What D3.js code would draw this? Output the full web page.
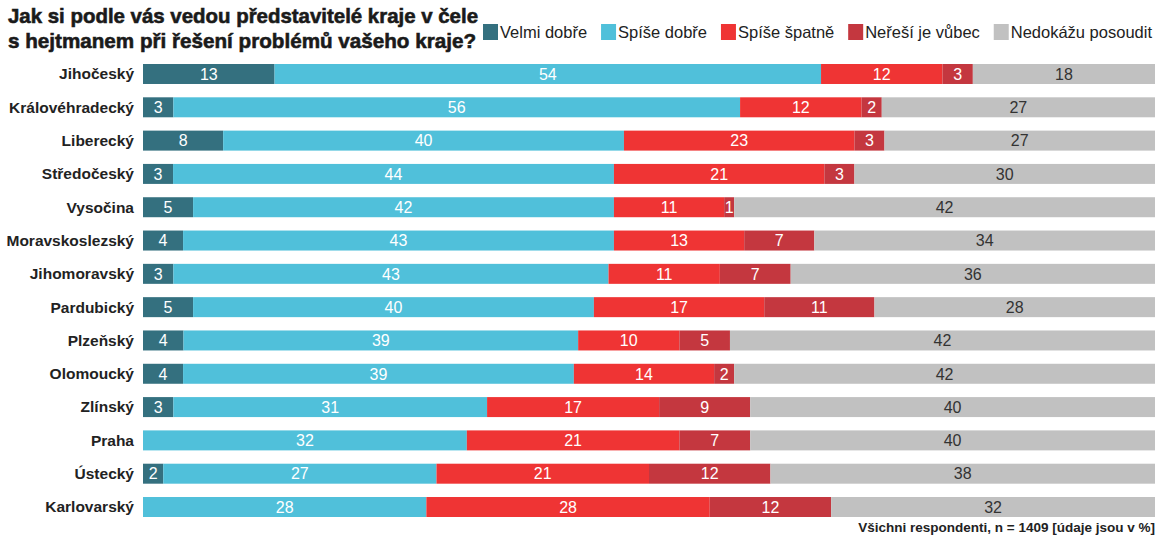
<!DOCTYPE html>
<html>
<head>
<meta charset="utf-8">
<script src="https://cdnjs.cloudflare.com/ajax/libs/d3/7.8.5/d3.min.js"></script>
<style>
    html, body { margin:0; padding:0; background:#fff; }
    svg { display:block; font-family:"Liberation Sans", Arial, sans-serif; }
    .title { font-family:"Liberation Sans", Arial, sans-serif; font-weight:bold; font-size:21px; fill:#1a1a1a; stroke:#1a1a1a; stroke-width:0.6px; }
    .cat { font-weight:bold; font-size:15.5px; fill:#222; }
    .val { font-size:16px; }
    .leg { font-size:16.5px; fill:#222; }
    .foot { font-weight:bold; font-size:13.5px; fill:#222; }
</style>
</head>
<body>
<svg width="1155" height="536"></svg>
<script>
// kraje, shora dolu
var regions = ["Jihočeský", "Královéhradecký", "Liberecký", "Středočeský", "Vysočina",
    "Moravskoslezský", "Jihomoravský", "Pardubický", "Plzeňský", "Olomoucký",
    "Zlínský", "Praha", "Ústecký", "Karlovarský"];

var seriesNames = ["Velmi dobře", "Spíše dobře", "Spíše špatně", "Neřeší je vůbec", "Nedokážu posoudit"];

var velmiDobre   = [13, 3, 8, 3, 5, 4, 3, 5, 4, 4, 3, 0, 2, 0];
var spiseDobre   = [54, 56, 40, 44, 42, 43, 43, 40, 39, 39, 31, 32, 27, 28];
var spiseSpatne  = [12, 12, 23, 21, 11, 13, 11, 17, 10, 14, 17, 21, 21, 28];
var neresi       = [3, 2, 3, 3, 1, 7, 7, 11, 5, 2, 9, 7, 12, 12];
var nedokazu     = [18, 27, 27, 30, 42, 34, 36, 28, 42, 42, 40, 40, 38, 32];

var colors = ["#34707f", "#50c0da", "#ef3434", "#c4373f", "#c1c1c1"];
var textColors = ["#fff", "#fff", "#fff", "#fff", "#333"];

var series = [velmiDobre, spiseDobre, spiseSpatne, neresi, nedokazu];

var svg = d3.select("svg");
var left = 143, right = 1155;

var y = d3.scaleBand().domain(regions).range([64, 517]).paddingInner(0.4).paddingOuter(0);

// title
var title = svg.append("text").attr("class", "title");
title.append("tspan").attr("x", 8).attr("y", 23)
    .attr("textLength", 470).attr("lengthAdjust", "spacingAndGlyphs")
    .text("Jak si podle vás vedou představitelé kraje v čele");
title.append("tspan").attr("x", 8).attr("y", 48)
    .attr("textLength", 468).attr("lengthAdjust", "spacingAndGlyphs")
    .text("s hejtmanem při řešení problémů vašeho kraje?");

// legend: measure texts, then spread gaps between 483 and 1152
var legStart = 483, legEnd = 1152, sw = 15, swGap = 2;
var legItems = seriesNames.map(function(name, i) {
    var g = svg.append("g");
    g.append("rect").attr("width", sw).attr("height", 16).attr("fill", colors[i]);
    var t = g.append("text").attr("class", "leg").attr("x", sw + swGap).attr("y", 14).text(name);
    return { g: g, w: sw + swGap + t.node().getComputedTextLength() };
});
var gap = (legEnd - legStart - d3.sum(legItems, function(d) { return d.w; })) / (legItems.length - 1);
var legX = legStart;
legItems.forEach(function(d) {
    d.g.attr("transform", "translate(" + legX + ",24)");
    legX += d.w + gap;
});

// rows
regions.forEach(function(r, ri) {
    var vals = series.map(function(s) { return s[ri]; });
    var total = d3.sum(vals);
    var x = d3.scaleLinear().domain([0, total]).range([left, right]);
    var row = svg.append("g").attr("transform", "translate(0," + y(r) + ")");

    row.append("text").attr("class", "cat")
        .attr("x", 134).attr("y", y.bandwidth() / 2).attr("dy", "0.35em")
        .attr("text-anchor", "end").text(r);

    var acc = 0;
    vals.forEach(function(v, si) {
        if (v > 0) {
            row.append("rect")
                .attr("x", x(acc)).attr("width", x(acc + v) - x(acc))
                .attr("height", y.bandwidth()).attr("fill", colors[si]);
            row.append("text").attr("class", "val")
                .attr("x", (x(acc) + x(acc + v)) / 2).attr("y", y.bandwidth() / 2)
                .attr("dy", "0.36em").attr("text-anchor", "middle")
                .attr("fill", textColors[si]).text(v);
        }
        acc += v;
    });
});

svg.append("text").attr("class", "foot")
    .attr("x", 1155).attr("y", 532).attr("text-anchor", "end")
    .text("Všichni respondenti, n = 1409 [údaje jsou v %]");
</script>
</body>
</html>
